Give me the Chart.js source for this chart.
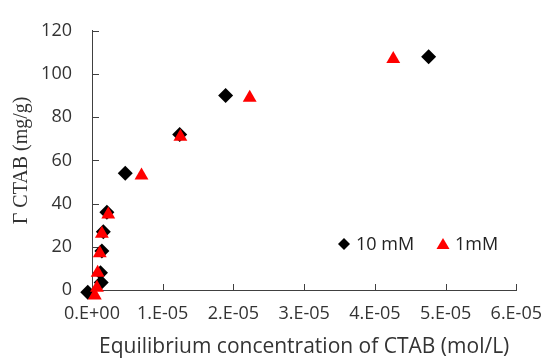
<!DOCTYPE html>
<html>
<head>
<meta charset="utf-8">
<script src="https://cdn.jsdelivr.net/npm/chart.js@4.4.0/dist/chart.umd.min.js"></script>
<style>
  html, body { margin: 0; padding: 0; background: #fff; }
  #wrap { width: 555px; height: 358px; position: relative; }
</style>
</head>
<body>
<div id="wrap"><canvas id="chart"></canvas></div>
<script>
// equilibrium CTAB concentration (mol/L) and adsorbed amount (mg/g)
const conc10mM = [-0.6e-6, 1.3e-6, 1.2e-6, 1.4e-6, 1.6e-6, 2.1e-6, 4.7e-6, 12.4e-6, 18.9e-6, 47.6e-6];
const gamma10mM = [-1, 3.5, 8, 18, 27, 36, 54, 72, 90, 108];

const conc1mM = [0.4e-6, 0.7e-6, 0.8e-6, 1.1e-6, 1.4e-6, 2.3e-6, 7.0e-6, 12.5e-6, 22.3e-6, 42.6e-6];
const gamma1mM = [-2.5, 1, 8, 17, 26, 35, 53, 71, 89, 107];

const seriesLabels = ["10 mM", "1mM"];
const xTickLabels = ["0.E+00", "1.E-05", "2.E-05", "3.E-05", "4.E-05", "5.E-05", "6.E-05"];
const yTickLabels = ["0", "20", "40", "60", "80", "100", "120"];

const sansFont = "'Open Sans', sans-serif";
const axisColor = "#404040";

function toPoints(xs, ys) {
    return xs.map((x, i) => ({ x: x, y: ys[i] }));
}

// short tick marks pointing into the plot
const innerTicks = {
    id: "innerTicks",
    beforeDatasetsDraw(chart) {
        const ctx = chart.ctx;
        const xs = chart.scales.x;
        const ys = chart.scales.y;
        ctx.save();
        ctx.strokeStyle = axisColor;
        ctx.lineWidth = 1;
        ctx.beginPath();
        for (const t of xs.ticks) {
            const px = Math.round(xs.getPixelForValue(t.value)) + 0.5;
            ctx.moveTo(px, ys.bottom);
            ctx.lineTo(px, ys.bottom - 6);
        }
        for (const t of ys.ticks) {
            const py = Math.round(ys.getPixelForValue(t.value)) + 0.5;
            ctx.moveTo(xs.left, py);
            ctx.lineTo(xs.left + 7, py);
        }
        ctx.stroke();
        ctx.restore();
    }
};

// legend sits inside the plot, lower right
const innerLegend = {
    id: "innerLegend",
    afterDraw(chart) {
        const ctx = chart.ctx;
        const area = chart.chartArea;
        const y = area.bottom - 46;
        let x = area.left + 252;
        ctx.save();
        ctx.font = "18px " + sansFont;
        ctx.textBaseline = "middle";
        for (const ds of chart.data.datasets) {
            ctx.fillStyle = ds.backgroundColor;
            ctx.beginPath();
            if (ds.pointStyle === "rectRot") {
                ctx.moveTo(x, y - 6);
                ctx.lineTo(x + 6, y);
                ctx.lineTo(x, y + 6);
                ctx.lineTo(x - 6, y);
            } else {
                ctx.moveTo(x, y - 6);
                ctx.lineTo(x + 6.5, y + 5);
                ctx.lineTo(x - 6.5, y + 5);
            }
            ctx.closePath();
            ctx.fill();
            ctx.fillStyle = "#222";
            ctx.fillText(ds.label, x + 12, y + 1);
            x += 99;
        }
        ctx.restore();
    }
};

new Chart(document.getElementById("chart"), {
    type: "scatter",
    data: {
        datasets: [
            {
                label: seriesLabels[0],
                data: toPoints(conc10mM, gamma10mM),
                pointStyle: "rectRot",
                pointRadius: 7.5,
                backgroundColor: "#000000",
                borderColor: "#000000",
                borderWidth: 0,
                clip: false,
                order: 1
            },
            {
                label: seriesLabels[1],
                data: toPoints(conc1mM, gamma1mM),
                pointStyle: "triangle",
                pointRadius: 8,
                backgroundColor: "#ff0000",
                borderColor: "#ff0000",
                borderWidth: 0,
                clip: false,
                order: 0
            }
        ]
    },
    options: {
        responsive: true,
        maintainAspectRatio: false,
        animation: false,
        layout: { padding: { top: 21, right: 33, left: 0, bottom: 0 } },
        plugins: {
            legend: { display: false },
            tooltip: { enabled: false }
        },
        scales: {
            x: {
                type: "linear",
                min: 0,
                max: 6e-5,
                afterFit(scale) { scale.height = 68; },
                grid: { display: false, drawTicks: false },
                border: { display: true, color: axisColor, width: 1 },
                ticks: {
                    stepSize: 1e-5,
                    padding: 13,
                    color: "#333",
                    font: { family: sansFont, size: 18 },
                    maxRotation: 0,
                    callback: (v, i) => xTickLabels[i]
                },
                title: {
                    display: true,
                    text: "Equilibrium concentration of CTAB (mol/L)",
                    color: "#333",
                    font: { family: sansFont, size: 21, lineHeight: 1 },
                    padding: { top: 0, bottom: 0 }
                }
            },
            y: {
                min: 0,
                max: 120,
                afterFit(scale) { scale.width = 92; },
                grid: { display: false, drawTicks: false },
                border: { display: true, color: axisColor, width: 1 },
                ticks: {
                    stepSize: 20,
                    padding: 20,
                    color: "#333",
                    font: { family: sansFont, size: 18 },
                    callback: (v, i) => yTickLabels[i]
                },
                title: {
                    display: true,
                    text: "Γ CTAB (mg/g)",
                    color: "#333",
                    font: { family: "'Liberation Serif', serif", size: 20 },
                    padding: { top: 10, bottom: 0 }
                }
            }
        }
    },
    plugins: [innerTicks, innerLegend]
});
</script>
</body>
</html>
